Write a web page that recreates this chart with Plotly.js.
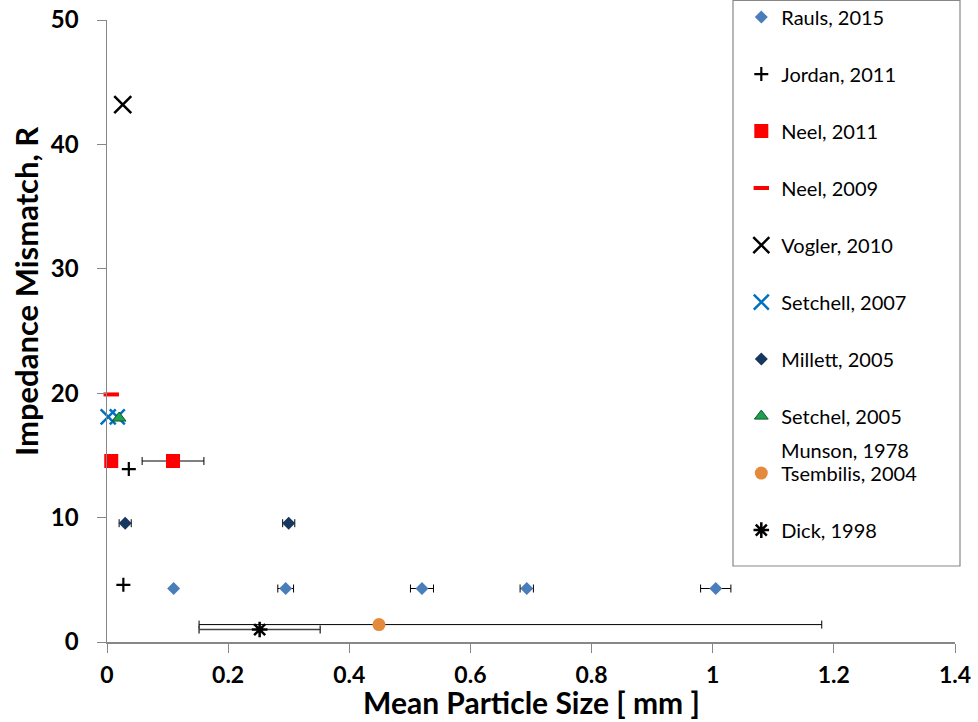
<!DOCTYPE html>
<html><head><meta charset="utf-8">
<script src="https://cdn.plot.ly/plotly-3.0.1.min.js"></script>
<style>html,body{margin:0;padding:0;background:#fff}#chart{width:978px;height:722px}</style>
</head><body><div id="chart"></div>
<script>
// Series data (Mean particle size [mm], Impedance mismatch R)
const raulsX = [0.11, 0.295, 0.52, 0.693, 1.005];
const raulsY = [4.3, 4.3, 4.3, 4.3, 4.3];
const raulsErr = [0, 0.013, 0.019, 0.011, 0.025];
const jordanX = [0.036, 0.027];
const jordanY = [13.9, 4.6];
const neel2011X = [0.007, 0.109];
const neel2011Y = [14.55, 14.55];
const neel2011Err = [0, 0.051];
const neel2009X = [0.007];
const neel2009Y = [19.9];
const voglerX = [0.026];
const voglerY = [43.2];
const setchell2007X = [0.002, 0.017];
const setchell2007Y = [18.1, 18.1];
const millettX = [0.03, 0.3];
const millettY = [9.55, 9.55];
const millettErr = [0.01, 0.01];
const setchel2005X = [0.02];
const setchel2005Y = [18.0];
const munsonLabel = 'Munson, 1978';   // series shown in the legend without a marker
const tsembilisX = [0.449];
const tsembilisY = [1.4];
const tsembilisErrMinus = [0.297];
const tsembilisErrPlus = [0.731];
const dickX = [0.252];
const dickY = [1.0];
const dickErr = [0.1];
const xTicks = [0, 0.2, 0.4, 0.6, 0.8, 1, 1.2, 1.4];
const yTicks = [0, 10, 20, 30, 40, 50];
const xTitle = 'Mean Particle Size [ mm ]';
const yTitle = 'Impedance Mismatch, R';

const FONT = 'Lato, "Open Sans", sans-serif';
let g = 0;
function tr(name, x, y, marker, extra) {
  g += 1;
  return Object.assign({type:'scatter', mode:'markers', name:name, x:x, y:y,
    marker:marker, legendgroup:'g'+g, cliponaxis:false}, extra||{});
}
const errStyle = {color:'#000', thickness:1, width:4};
const traces = [
  tr('Rauls, 2015', raulsX, raulsY, {symbol:'diamond', size:10, color:'#4A7EBB'},
     {error_x:Object.assign({type:'data', array:raulsErr, visible:true}, errStyle)}),
  tr('Jordan, 2011', jordanX, jordanY, {symbol:'cross-thin-open', size:10, color:'#000', line:{color:'#000', width:2.2}}),
  tr('Neel, 2011', neel2011X, neel2011Y, {symbol:'square', size:14, color:'#FF0000'},
     {error_x:Object.assign({type:'data', array:neel2011Err, visible:true}, errStyle)}),
  tr('Neel, 2009', neel2009X, neel2009Y, {symbol:'line-ew-open', size:11, color:'#FF0000', line:{color:'#FF0000', width:4}}),
  tr('Vogler, 2010', voglerX, voglerY, {symbol:'x-thin-open', size:17, color:'#000', line:{color:'#000', width:2.5}}),
  tr('Setchell, 2007', setchell2007X, setchell2007Y, {symbol:'x-thin-open', size:15, color:'#0070C0', line:{color:'#0070C0', width:2.5}}),
  tr('Millett, 2005', millettX, millettY, {symbol:'diamond', size:10, color:'#17375E'},
     {error_x:Object.assign({type:'data', array:millettErr, visible:true}, errStyle)}),
  tr('Setchel, 2005', setchel2005X, setchel2005Y, {symbol:'triangle-up', size:12, color:'#1FA050', line:{color:'#0B5E2A', width:1}}),
  tr('Tsembilis, 2004', tsembilisX, tsembilisY, {symbol:'circle', size:13, color:'#E48A3C'},
     {error_x:Object.assign({type:'data', symmetric:false, array:tsembilisErrPlus, arrayminus:tsembilisErrMinus, visible:true}, errStyle)}),
  tr('Dick, 1998', dickX, dickY, {symbol:'asterisk-open', size:13, color:'#000', line:{color:'#000', width:2.5}},
     {error_x:Object.assign({type:'data', array:dickErr, visible:true}, errStyle, {color:'#444', thickness:1.5})})
];

const layout = {
  width:978, height:722,
  margin:{l:107, r:23, t:20, b:80, autoexpand:false},
  paper_bgcolor:'#fff', plot_bgcolor:'#fff',
  font:{family:FONT, color:'#000'},
  showlegend:true,
  legend:{x:0.748, y:1.036, xanchor:'left', yanchor:'top', bgcolor:'rgba(0,0,0,0)', maxheight:720,
    borderwidth:0, font:{family:FONT, size:20, color:'#000'}, tracegroupgap:28, itemsizing:'trace'},
  xaxis:{range:[0,1.4], tickvals:xTicks, ticktext:xTicks.map(String), showgrid:false, zeroline:false,
    showline:true, linecolor:'#878787', linewidth:1.5, ticks:'outside', ticklen:9, tickcolor:'#878787',
    ticklabelstandoff:3,
    tickfont:{family:FONT, size:23, color:'#000', weight:700}},
  yaxis:{range:[0,50], tickvals:yTicks, ticktext:yTicks.map(String), showgrid:false, zeroline:false,
    showline:true, linecolor:'#878787', linewidth:1.5, ticks:'outside', ticklen:9, tickcolor:'#878787',
    ticklabelstandoff:13,
    tickfont:{family:FONT, size:24, color:'#000', weight:700}},
  annotations:[
    {xref:'paper', yref:'paper', x:(779-107)/848, y:(642-450)/622, xanchor:'left', yanchor:'middle',
     text:munsonLabel, showarrow:false, font:{family:FONT, size:20, color:'#000'}},
    {xref:'paper', yref:'paper', x:0.5, y:(642-702)/622, xanchor:'center', yanchor:'middle',
     text:xTitle, showarrow:false, font:{family:FONT, size:30, color:'#000', weight:700}},
    {xref:'paper', yref:'paper', x:(26-107)/848, y:(642-292)/622, xanchor:'center', yanchor:'middle', textangle:-90,
     text:yTitle, showarrow:false, font:{family:FONT, size:31, color:'#000', weight:700}}
  ],
  shapes:[{type:'rect', xref:'paper', yref:'paper', x0:(733-107)/848, x1:(960-107)/848,
    y0:(642-566)/622, y1:(642-0.5)/622, line:{color:'#878787', width:1.2}, fillcolor:'rgba(255,255,255,0)', layer:'above'}]
};
Plotly.newPlot('chart', traces, layout, {displayModeBar:false, staticPlot:true});
</script></body></html>
